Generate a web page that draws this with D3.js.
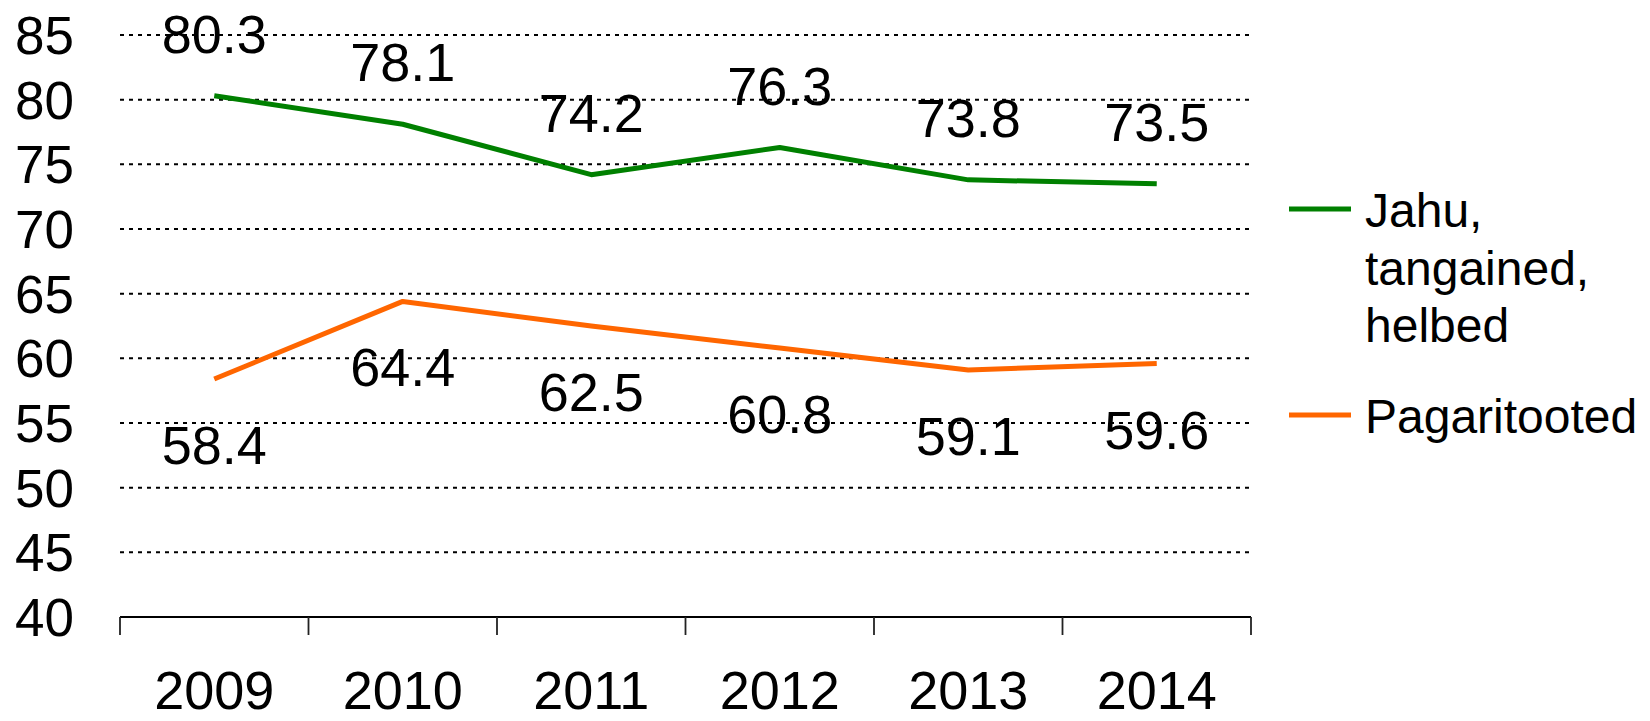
<!DOCTYPE html>
<html>
<head>
<meta charset="utf-8">
<script src="https://cdn.jsdelivr.net/npm/d3@7"></script>
<style>
  html, body { margin: 0; padding: 0; background: #fff; }
  svg { display: block; }
  text { font-family: "Liberation Sans", Arial, Helvetica, sans-serif; fill: #000; }
</style>
</head>
<body>
<svg id="chart" width="1650" height="721"></svg>
<script>
const years = ["2009", "2010", "2011", "2012", "2013", "2014"];
const jahu = [80.3, 78.1, 74.2, 76.3, 73.8, 73.5];
const pagar = [58.4, 64.4, 62.5, 60.8, 59.1, 59.6];
const yTicks = [40, 45, 50, 55, 60, 65, 70, 75, 80, 85];
const seriesNames = [["Jahu,", "tangained,", "helbed"], ["Pagaritooted"]];
const seriesColors = ["#008000", "#ff6600"];

(function () {
const svg = d3.select("#chart");
const plotL = 120, plotR = 1251, plotT = 35, plotB = 617;

const x = d3.scaleBand().domain(years).range([plotL, plotR]).padding(0);
const y = d3.scaleLinear().domain([40, 85]).range([plotB, plotT]);
const cx = d => x(d) + x.bandwidth() / 2;

// gridlines
svg.append("g").selectAll("line")
  .data(yTicks.filter(t => t !== 40))
  .join("line")
  .attr("x1", plotL).attr("x2", plotR)
  .attr("y1", d => y(d)).attr("y2", d => y(d))
  .attr("stroke", "#000").attr("stroke-width", 2)
  .attr("stroke-dasharray", "4,5");

// y tick labels
svg.append("g").selectAll("text")
  .data(yTicks)
  .join("text")
  .attr("x", 74)
  .attr("y", d => y(d) + 19)
  .attr("text-anchor", "end")
  .attr("font-size", 53)
  .text(d => d);

// x axis line
svg.append("line")
  .attr("x1", plotL).attr("x2", plotR)
  .attr("y1", plotB).attr("y2", plotB)
  .attr("stroke", "#000").attr("stroke-width", 2);

// x tick marks at band boundaries
const boundaries = years.map(d => x(d)).concat([x(years[years.length - 1]) + x.bandwidth()]);
svg.append("g").selectAll("line")
  .data(boundaries)
  .join("line")
  .attr("x1", d => d).attr("x2", d => d)
  .attr("y1", plotB).attr("y2", plotB + 18)
  .attr("stroke", "#222").attr("stroke-width", 1.8);

// x labels
svg.append("g").selectAll("text")
  .data(years)
  .join("text")
  .attr("x", d => cx(d))
  .attr("y", 709)
  .attr("text-anchor", "middle")
  .attr("font-size", 54)
  .text(d => d);

// lines
const line = d3.line().x((d, i) => cx(years[i])).y(d => y(d));
[jahu, pagar].forEach((s, k) => {
  svg.append("path")
    .datum(s)
    .attr("d", line)
    .attr("fill", "none")
    .attr("stroke", seriesColors[k])
    .attr("stroke-width", 5)
    .attr("stroke-linejoin", "round");
});

// data labels
svg.append("g").selectAll("text")
  .data(jahu)
  .join("text")
  .attr("x", (d, i) => cx(years[i]))
  .attr("y", d => y(d) - 43)
  .attr("text-anchor", "middle")
  .attr("font-size", 54)
  .text(d => d.toFixed(1));

svg.append("g").selectAll("text")
  .data(pagar)
  .join("text")
  .attr("x", (d, i) => cx(years[i]))
  .attr("y", d => y(d) + 85)
  .attr("text-anchor", "middle")
  .attr("font-size", 54)
  .text(d => d.toFixed(1));

// legend
const legendY = [209, 415];
seriesNames.forEach((lines, k) => {
  const g = svg.append("g");
  g.append("line")
    .attr("x1", 1289).attr("x2", 1351)
    .attr("y1", legendY[k]).attr("y2", legendY[k])
    .attr("stroke", seriesColors[k]).attr("stroke-width", 5);
  const t = g.append("text")
    .attr("x", 1365)
    .attr("y", legendY[k] + 18)
    .attr("font-size", 48);
  lines.forEach((ln, j) => {
    t.append("tspan").attr("x", 1365).attr("dy", j === 0 ? 0 : 57.5).text(ln);
  });
});
})();
</script>
</body>
</html>
